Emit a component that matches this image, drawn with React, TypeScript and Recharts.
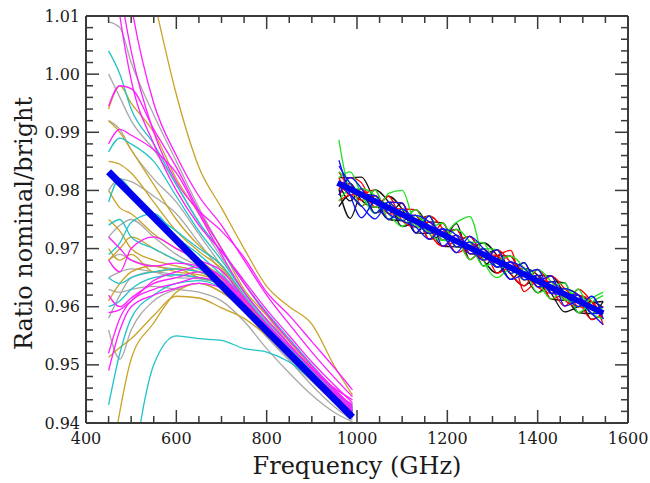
import React from 'react';
import { LineChart, Line, XAxis, YAxis } from 'recharts';

// frequency grids (GHz) for the two bands
const LOW_FREQ = [450, 475, 500, 550, 600, 650, 700, 750, 800, 850, 900, 950, 990];
const HIGH_FREQ = [960, 985, 1010, 1040, 1070, 1100, 1130, 1160, 1190, 1220, 1250, 1280, 1310, 1340, 1370, 1400, 1430, 1460, 1490, 1520, 1545];

// low band detector ratios, one row per detector (null = not plotted)
const GOLD_RUNS: (number | null)[][] = [
  [null, null, 1.030, 1.013, 0.9965, 0.9840, 0.9770, 0.9700, 0.9635, 0.9600, 0.9570, 0.9498, 0.9448],
  [0.9940, 0.9980, 0.9950, 0.9900, 0.9820, 0.9760, 0.9700, 0.9630, 0.9585, 0.9540, 0.9495, 0.9455, 0.9425],
  [0.9850, 0.9845, 0.9830, 0.9780, 0.9730, 0.9695, 0.9665, 0.9612, 0.9568, 0.9528, 0.9488, 0.9450, 0.9418],
  [0.9800, 0.9770, 0.9760, 0.9725, 0.9700, 0.9680, 0.9650, 0.9605, 0.9562, 0.9522, 0.9482, 0.9446, 0.9415],
  [0.9750, 0.9730, 0.9700, 0.9680, 0.9670, 0.9660, 0.9640, 0.9600, 0.9558, 0.9518, 0.9478, 0.9442, 0.9413],
  [0.9513, 0.9530, 0.9545, 0.9585, 0.9618, 0.9615, 0.9598, 0.9580, 0.9550, 0.9515, 0.9478, 0.9442, 0.9412],
  [0.9300, 0.9420, 0.9510, 0.9572, 0.9625, 0.9640, 0.9625, 0.9598, 0.9558, 0.9520, 0.9482, 0.9446, 0.9414],
  [0.9700, 0.9680, 0.9690, 0.9660, 0.9665, 0.9650, 0.9638, 0.9605, 0.9562, 0.9524, 0.9486, 0.9450, 0.9420],
  [0.9610, 0.9640, 0.9660, 0.9670, 0.9660, 0.9655, 0.9642, 0.9608, 0.9565, 0.9526, 0.9487, 0.9448, 0.9422],
  [0.9680, 0.9700, 0.9720, 0.9700, 0.9680, 0.9665, 0.9648, 0.9608, 0.9563, 0.9523, 0.9484, 0.9447, 0.9417],
  [0.9920, 0.9900, 0.9870, 0.9810, 0.9750, 0.9705, 0.9670, 0.9618, 0.9570, 0.9528, 0.9488, 0.9450, 0.9420],
];
const CYAN_RUNS: (number | null)[][] = [
  [null, null, 0.9300, 0.9500, 0.9550, 0.9545, 0.9542, 0.9528, 0.9522, 0.9505, 0.9475, 0.9445, 0.9432],
  [1.0040, 1.0000, 0.9940, 0.9880, 0.9810, 0.9745, 0.9695, 0.9640, 0.9590, 0.9545, 0.9500, 0.9458, 0.9428],
  [0.9866, 0.9890, 0.9880, 0.9850, 0.9790, 0.9730, 0.9680, 0.9625, 0.9578, 0.9535, 0.9493, 0.9455, 0.9426],
  [0.9740, 0.9750, 0.9720, 0.9700, 0.9680, 0.9665, 0.9645, 0.9606, 0.9560, 0.9521, 0.9483, 0.9446, 0.9420],
  [0.9650, 0.9640, 0.9650, 0.9660, 0.9665, 0.9660, 0.9642, 0.9603, 0.9558, 0.9519, 0.9482, 0.9445, 0.9422],
  [0.9431, 0.9520, 0.9580, 0.9620, 0.9640, 0.9645, 0.9632, 0.9598, 0.9556, 0.9518, 0.9482, 0.9450, 0.9430],
  [0.9690, 0.9710, 0.9745, 0.9760, 0.9720, 0.9690, 0.9655, 0.9615, 0.9568, 0.9528, 0.9490, 0.9452, 0.9424],
  [0.9780, 0.9820, 0.9800, 0.9760, 0.9730, 0.9700, 0.9672, 0.9620, 0.9572, 0.9530, 0.9490, 0.9452, 0.9422],
  [0.9600, 0.9610, 0.9630, 0.9650, 0.9655, 0.9650, 0.9638, 0.9603, 0.9560, 0.9521, 0.9484, 0.9448, 0.9420],
];
const MAGENTA_RUNS: (number | null)[][] = [
  [1.0300, 1.0150, 1.0040, 0.9900, 0.9815, 0.9765, 0.9730, 0.9685, 0.9625, 0.9585, 0.9540, 0.9495, 0.9457],
  [1.0250, 1.0100, 0.9990, 0.9880, 0.9800, 0.9740, 0.9695, 0.9645, 0.9595, 0.9550, 0.9505, 0.9465, 0.9435],
  [0.9945, 0.9980, 0.9975, 0.9905, 0.9840, 0.9765, 0.9700, 0.9640, 0.9588, 0.9542, 0.9498, 0.9458, 0.9428],
  [0.9880, 0.9905, 0.9895, 0.9870, 0.9830, 0.9760, 0.9690, 0.9625, 0.9578, 0.9535, 0.9492, 0.9455, 0.9425],
  [0.9720, 0.9700, 0.9680, 0.9670, 0.9675, 0.9670, 0.9650, 0.9608, 0.9563, 0.9524, 0.9486, 0.9450, 0.9420],
  [0.9620, 0.9600, 0.9615, 0.9640, 0.9650, 0.9660, 0.9645, 0.9605, 0.9560, 0.9521, 0.9484, 0.9448, 0.9418],
  [0.9520, 0.9580, 0.9610, 0.9630, 0.9640, 0.9650, 0.9638, 0.9600, 0.9556, 0.9518, 0.9480, 0.9446, 0.9416],
  [0.9490, 0.9560, 0.9600, 0.9620, 0.9632, 0.9640, 0.9632, 0.9598, 0.9557, 0.9520, 0.9485, 0.9452, 0.9432],
  [0.9590, 0.9595, 0.9610, 0.9645, 0.9660, 0.9668, 0.9652, 0.9612, 0.9570, 0.9532, 0.9494, 0.9460, 0.9440],
  [0.9680, 0.9660, 0.9700, 0.9720, 0.9700, 0.9680, 0.9662, 0.9615, 0.9568, 0.9527, 0.9487, 0.9450, 0.9422],
  [null, 1.0250, 1.0120, 0.9950, 0.9860, 0.9790, 0.9740, 0.9680, 0.9620, 0.9570, 0.9522, 0.9478, 0.9445],
];
const GRAY_RUNS: (number | null)[][] = [
  [1.0090, 1.0080, 1.0020, 0.9930, 0.9850, 0.9770, 0.9700, 0.9640, 0.9585, 0.9535, 0.9485, 0.9438, 0.9410],
  [1.0000, 0.9960, 0.9920, 0.9870, 0.9810, 0.9745, 0.9685, 0.9625, 0.9575, 0.9530, 0.9488, 0.9450, 0.9420],
  [0.9920, 0.9905, 0.9870, 0.9820, 0.9780, 0.9725, 0.9670, 0.9615, 0.9565, 0.9522, 0.9482, 0.9446, 0.9416],
  [0.9800, 0.9820, 0.9815, 0.9790, 0.9760, 0.9710, 0.9660, 0.9605, 0.9555, 0.9512, 0.9472, 0.9435, 0.9408],
  [0.9680, 0.9690, 0.9680, 0.9670, 0.9665, 0.9660, 0.9642, 0.9600, 0.9552, 0.9508, 0.9465, 0.9428, 0.9405],
  [0.9630, 0.9625, 0.9630, 0.9635, 0.9630, 0.9625, 0.9610, 0.9575, 0.9528, 0.9486, 0.9448, 0.9418, 0.9402],
  [0.9560, 0.9510, 0.9560, 0.9610, 0.9630, 0.9640, 0.9625, 0.9592, 0.9548, 0.9508, 0.9472, 0.9438, 0.9410],
  [0.9580, 0.9620, 0.9650, 0.9660, 0.9655, 0.9650, 0.9638, 0.9600, 0.9556, 0.9518, 0.9482, 0.9446, 0.9418],
  [0.9720, 0.9740, 0.9750, 0.9720, 0.9690, 0.9670, 0.9655, 0.9610, 0.9560, 0.9518, 0.9478, 0.9442, 0.9412],
  [0.9650, 0.9660, 0.9665, 0.9660, 0.9650, 0.9648, 0.9638, 0.9598, 0.9553, 0.9512, 0.9475, 0.9440, 0.9410],
];

// high band detector ratios
const BLACK_RUNS: number[][] = [
  [0.9802, 0.9752, 0.9793, 0.9791, 0.9760, 0.9778, 0.9727, 0.9746, 0.9744, 0.9703, 0.9711, 0.9670, 0.9688, 0.9687, 0.9646, 0.9654, 0.9623, 0.9591, 0.9600, 0.9608, 0.9599],
  [0.9822, 0.9822, 0.9823, 0.9781, 0.9750, 0.9748, 0.9757, 0.9716, 0.9724, 0.9733, 0.9691, 0.9690, 0.9698, 0.9657, 0.9636, 0.9654, 0.9653, 0.9621, 0.9590, 0.9588, 0.9609],
  [0.9772, 0.9792, 0.9773, 0.9801, 0.9780, 0.9738, 0.9747, 0.9756, 0.9714, 0.9743, 0.9681, 0.9700, 0.9668, 0.9667, 0.9676, 0.9634, 0.9633, 0.9631, 0.9620, 0.9578, 0.9589],
  [0.9792, 0.9812, 0.9783, 0.9771, 0.9790, 0.9768, 0.9727, 0.9726, 0.9734, 0.9713, 0.9721, 0.9680, 0.9658, 0.9677, 0.9656, 0.9624, 0.9643, 0.9641, 0.9590, 0.9598, 0.9579],
  [0.9812, 0.9782, 0.9803, 0.9761, 0.9770, 0.9748, 0.9767, 0.9736, 0.9704, 0.9703, 0.9701, 0.9710, 0.9688, 0.9647, 0.9666, 0.9654, 0.9613, 0.9611, 0.9620, 0.9608, 0.9609],
];
const RED_RUNS: number[][] = [
  [0.9822, 0.9792, 0.9803, 0.9771, 0.9780, 0.9778, 0.9737, 0.9746, 0.9714, 0.9723, 0.9681, 0.9700, 0.9678, 0.9687, 0.9646, 0.9654, 0.9613, 0.9621, 0.9620, 0.9608, 0.9579],
  [0.9792, 0.9812, 0.9773, 0.9791, 0.9760, 0.9758, 0.9757, 0.9716, 0.9744, 0.9703, 0.9711, 0.9680, 0.9688, 0.9697, 0.9626, 0.9644, 0.9643, 0.9611, 0.9600, 0.9608, 0.9569],
  [0.9802, 0.9822, 0.9813, 0.9771, 0.9790, 0.9748, 0.9737, 0.9746, 0.9724, 0.9733, 0.9691, 0.9700, 0.9658, 0.9667, 0.9666, 0.9634, 0.9653, 0.9631, 0.9610, 0.9578, 0.9589],
  [0.9832, 0.9802, 0.9783, 0.9791, 0.9770, 0.9768, 0.9767, 0.9726, 0.9704, 0.9713, 0.9721, 0.9690, 0.9688, 0.9657, 0.9636, 0.9664, 0.9633, 0.9601, 0.9630, 0.9608, 0.9579],
  [0.9782, 0.9792, 0.9793, 0.9801, 0.9750, 0.9768, 0.9747, 0.9756, 0.9734, 0.9693, 0.9701, 0.9680, 0.9698, 0.9677, 0.9656, 0.9634, 0.9623, 0.9631, 0.9600, 0.9598, 0.9599],
];
const GREEN_RUNS: number[][] = [
  [0.9887, 0.9800, 0.9790, 0.9760, 0.9795, 0.9800, 0.9740, 0.9730, 0.9725, 0.9745, 0.9755, 0.9680, 0.9650, 0.9665, 0.9660, 0.9640, 0.9632, 0.9615, 0.9600, 0.9615, 0.9625],
  [0.9832, 0.9812, 0.9773, 0.9801, 0.9750, 0.9768, 0.9737, 0.9756, 0.9714, 0.9713, 0.9681, 0.9700, 0.9698, 0.9657, 0.9666, 0.9644, 0.9613, 0.9631, 0.9610, 0.9588, 0.9579],
  [0.9782, 0.9802, 0.9803, 0.9791, 0.9760, 0.9738, 0.9757, 0.9736, 0.9744, 0.9703, 0.9711, 0.9710, 0.9668, 0.9667, 0.9646, 0.9664, 0.9643, 0.9611, 0.9630, 0.9588, 0.9599],
  [0.9822, 0.9832, 0.9793, 0.9771, 0.9780, 0.9748, 0.9767, 0.9726, 0.9714, 0.9733, 0.9711, 0.9670, 0.9678, 0.9687, 0.9666, 0.9624, 0.9633, 0.9641, 0.9590, 0.9608, 0.9619],
];
const BLUE_RUNS: number[][] = [
  [0.9852, 0.9792, 0.9753, 0.9781, 0.9750, 0.9768, 0.9747, 0.9726, 0.9734, 0.9703, 0.9711, 0.9690, 0.9668, 0.9677, 0.9646, 0.9654, 0.9623, 0.9621, 0.9620, 0.9588, 0.9589],
  [0.9792, 0.9822, 0.9803, 0.9761, 0.9780, 0.9778, 0.9727, 0.9756, 0.9704, 0.9723, 0.9701, 0.9680, 0.9698, 0.9657, 0.9676, 0.9634, 0.9643, 0.9621, 0.9600, 0.9618, 0.9579],
  [0.9812, 0.9792, 0.9773, 0.9751, 0.9780, 0.9758, 0.9757, 0.9746, 0.9724, 0.9693, 0.9721, 0.9700, 0.9678, 0.9647, 0.9656, 0.9664, 0.9623, 0.9631, 0.9620, 0.9598, 0.9599],
  [0.9842, 0.9812, 0.9793, 0.9791, 0.9760, 0.9748, 0.9737, 0.9716, 0.9734, 0.9723, 0.9691, 0.9700, 0.9668, 0.9677, 0.9666, 0.9644, 0.9653, 0.9601, 0.9610, 0.9588, 0.9569],
];

// linear fits through each band
const LOW_FIT_FREQ = [450, 990];
const LOW_FIT = [0.9832, 0.941];
const HIGH_FIT_FREQ = [957, 1545];
const HIGH_FIT = [0.9813, 0.9589];

const X_TICKS = [400, 450, 500, 550, 600, 650, 700, 750, 800, 850, 900, 950, 1000, 1050, 1100, 1150, 1200, 1250, 1300, 1350, 1400, 1450, 1500, 1550, 1600];
const Y_TICKS = [
  0.94, 0.942, 0.944, 0.946, 0.948, 0.95, 0.952, 0.954, 0.956, 0.958, 0.96, 0.962, 0.964, 0.966, 0.968,
  0.97, 0.972, 0.974, 0.976, 0.978, 0.98, 0.982, 0.984, 0.986, 0.988, 0.99, 0.992, 0.994, 0.996, 0.998,
  1.0, 1.002, 1.004, 1.006, 1.008, 1.01,
];

const FONT = '"DejaVu Serif", serif';
const INK = '#1a1a1a';
const AXIS = '#3a3a3a';

const toPoints = (freqs: number[], vals: (number | null)[]) =>
  freqs.map((x, i) => ({ x, y: vals[i] })).filter((p) => p.y !== null && p.y !== undefined);

const isMajorX = (v: number) => v % 200 === 0;
const isMajorY = (v: number) => Math.round(v * 1000) % 10 === 0;

const BottomTick = ({ x, y, payload }: any) => {
  const major = isMajorX(payload.value);
  return (
    <g>
      <line x1={x} x2={x} y1={y} y2={y - (major ? 13 : 7)} stroke={AXIS} strokeWidth={1.5} />
      {major && (
        <text x={x} y={y + 10} dy="0.71em" textAnchor="middle" fontFamily={FONT} fontSize={16} fill={INK}>
          {payload.value}
        </text>
      )}
    </g>
  );
};

const TopTick = ({ x, y, payload }: any) => {
  const major = isMajorX(payload.value);
  return <line x1={x} x2={x} y1={y} y2={y + (major ? 13 : 7)} stroke={AXIS} strokeWidth={1.5} />;
};

const LeftTick = ({ x, y, payload }: any) => {
  const major = isMajorY(payload.value);
  return (
    <g>
      <line x1={x} x2={x + (major ? 13 : 7)} y1={y} y2={y} stroke={AXIS} strokeWidth={1.5} />
      {major && (
        <text x={x - 6} y={y} dy="0.35em" textAnchor="end" fontFamily={FONT} fontSize={16} fill={INK}>
          {payload.value.toFixed(2)}
        </text>
      )}
    </g>
  );
};

const RightTick = ({ x, y, payload }: any) => {
  const major = isMajorY(payload.value);
  return <line x1={x} x2={x - (major ? 13 : 7)} y1={y} y2={y} stroke={AXIS} strokeWidth={1.5} />;
};

const YTitle = ({ viewBox }: any) => {
  const cx = viewBox.x + 24;
  const cy = viewBox.y + viewBox.height / 2 + 4;
  return (
    <text
      x={cx}
      y={cy}
      transform={`rotate(-90 ${cx} ${cy})`}
      textAnchor="middle"
      dominantBaseline="central"
      fontFamily={FONT}
      fontSize={24}
      fill={INK}
    >
      Ratio nominal/bright
    </text>
  );
};

const XTitle = ({ viewBox }: any) => (
  <text
    x={viewBox.x + viewBox.width / 2}
    y={viewBox.y + viewBox.height - 9}
    textAnchor="middle"
    fontFamily={FONT}
    fontSize={24}
    fill={INK}
  >
    Frequency (GHz)
  </text>
);

const runLines = (runs: (number | null)[][], freqs: number[], color: string, tag: string) =>
  runs.map((vals, i) => (
    <Line
      key={`${tag}-${i}`}
      data={toPoints(freqs, vals)}
      dataKey="y"
      type="monotone"
      stroke={color}
      strokeWidth={1.3}
      dot={false}
      activeDot={false}
      isAnimationActive={false}
    />
  ));

export default function App() {
  const axisLine = { stroke: AXIS, strokeWidth: 2 };
  return (
    <div style={{ position: 'absolute', left: 0, top: 0, background: '#fff' }}>
      <LineChart width={650} height={483} margin={{ top: 0, right: 0, bottom: 0, left: 0 }}>
        <XAxis
          dataKey="x"
          type="number"
          domain={[400, 1600]}
          allowDataOverflow
          ticks={X_TICKS}
          interval={0}
          tickSize={0}
          tickMargin={0}
          tickLine={false}
          tick={<BottomTick />}
          axisLine={axisLine}
          height={60}
          label={<XTitle />}
        />
        <XAxis
          xAxisId="top"
          orientation="top"
          dataKey="x"
          type="number"
          domain={[400, 1600]}
          allowDataOverflow
          ticks={X_TICKS}
          interval={0}
          tickSize={0}
          tickMargin={0}
          tickLine={false}
          tick={<TopTick />}
          axisLine={axisLine}
          height={16}
        />
        <YAxis
          type="number"
          domain={[0.94, 1.01]}
          allowDataOverflow
          ticks={Y_TICKS}
          interval={0}
          tickSize={0}
          tickMargin={0}
          tickLine={false}
          tick={<LeftTick />}
          axisLine={axisLine}
          width={86}
          label={<YTitle />}
        />
        <YAxis
          yAxisId="right"
          orientation="right"
          type="number"
          domain={[0.94, 1.01]}
          allowDataOverflow
          ticks={Y_TICKS}
          interval={0}
          tickSize={0}
          tickMargin={0}
          tickLine={false}
          tick={<RightTick />}
          axisLine={axisLine}
          width={22}
        />
        {runLines(GRAY_RUNS, LOW_FREQ, '#a8a8a8', 'gray')}
        {runLines(GOLD_RUNS, LOW_FREQ, '#c9a227', 'gold')}
        {runLines(CYAN_RUNS, LOW_FREQ, '#22c3c8', 'cyan')}
        {runLines(MAGENTA_RUNS, LOW_FREQ, '#ff1eff', 'magenta')}
        {runLines(BLACK_RUNS, HIGH_FREQ, '#111111', 'black')}
        {runLines(RED_RUNS, HIGH_FREQ, '#ff0000', 'red')}
        {runLines(GREEN_RUNS, HIGH_FREQ, '#22e022', 'green')}
        {runLines(BLUE_RUNS, HIGH_FREQ, '#1010ff', 'blue')}
        <Line
          data={toPoints(LOW_FIT_FREQ, LOW_FIT)}
          dataKey="y"
          type="linear"
          stroke="#0000f0"
          strokeWidth={7}
          dot={false}
          activeDot={false}
          isAnimationActive={false}
        />
        <Line
          data={toPoints(HIGH_FIT_FREQ, HIGH_FIT)}
          dataKey="y"
          type="linear"
          stroke="#0000f0"
          strokeWidth={6}
          dot={false}
          activeDot={false}
          isAnimationActive={false}
        />
      </LineChart>
    </div>
  );
}
